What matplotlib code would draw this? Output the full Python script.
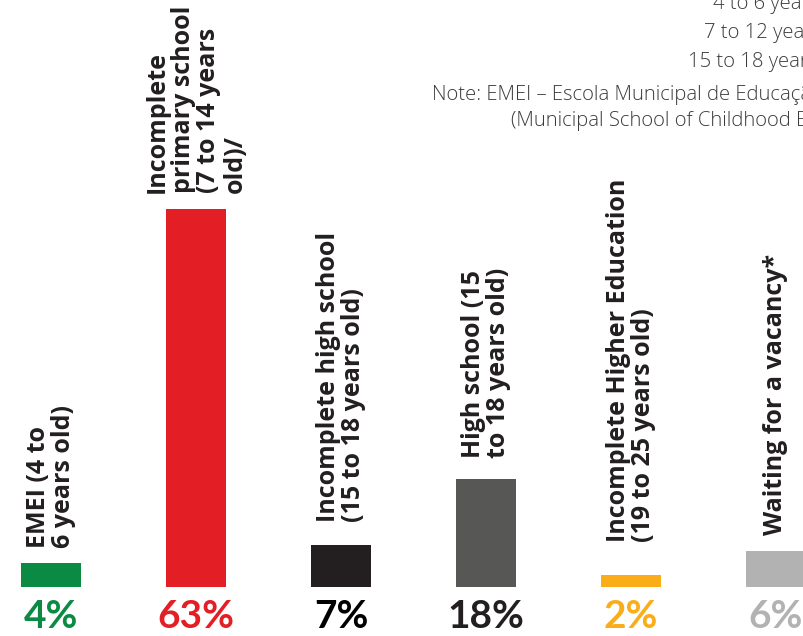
import matplotlib.pyplot as plt

# data
categories = [
    "EMEI (4 to\n6 years old)",
    "Incomplete\nprimary school\n(7 to 14 years\nold)/",
    "Incomplete high school\n(15 to 18 years old)",
    "High school (15\nto 18 years old)",
    "Incomplete Higher Education\n(19 to 25 years old)",
    "Waiting for a vacancy*",
]
shares = [4, 63, 7, 18, 2, 6]
share_labels = ["4%", "63%", "7%", "18%", "2%", "6%"]
note_lines = [
    "4 to 6 years old",
    "7 to 12 years old",
    "15 to 18 years old",
    "Note: EMEI – Escola Municipal de Educação Infantil",
    "(Municipal School of Childhood Education)",
]

colors = ["#0b8a43", "#e31e25", "#231f20", "#575756", "#fbac19", "#b2b2b2"]
pct_colors = ["#0b8a43", "#e31e25", "#000000", "#231f20", "#fbac19", "#b2b2b2"]
label_gap = [15, 16, 23, 21, 33, 16]  # pixels between bar top and label

W, H = 804, 636
fig = plt.figure(figsize=(W / 100, H / 100), dpi=100)
ax = fig.add_axes([0, 0, 1, 1])

x = list(range(len(shares)))
ax.bar(x, shares, width=0.42, color=colors)

# x: 145 px per category, first bar centre at 51 px
x0 = -51 / 145
ax.set_xlim(x0, x0 + W / 145)
# y: 6 px per percent, baseline 49 px above bottom
ax.set_ylim(-49 / 6, (H - 49) / 6)
ax.axis("off")

for i, (cat, v) in enumerate(zip(categories, shares)):
    ax.annotate(cat, (i, v), xytext=(0, label_gap[i]), textcoords="offset pixels",
                rotation=90, ha="center", va="bottom", multialignment="left",
                fontsize=18, fontweight="bold", family="Open Sans", color="#231f20",
                linespacing=1.05)
    ax.annotate(share_labels[i], (i, 0), xytext=(0, -30), textcoords="offset pixels",
                ha="center", va="center", fontsize=28, fontweight="bold",
                family="Lato", color=pct_colors[i])

# note block at top right (clipped by the figure edge)
note_x = [713, 704, 688, 432, 511]
note_base = [9, 38, 67, 100, 126]
for t, nx, ny in zip(note_lines, note_x, note_base):
    fig.text(nx / W, 1 - ny / H, t, ha="left", va="baseline", fontsize=14.6,
             family="Open Sans", fontweight="light", color="#3c3c3b")

plt.savefig("out.png", dpi=100)
